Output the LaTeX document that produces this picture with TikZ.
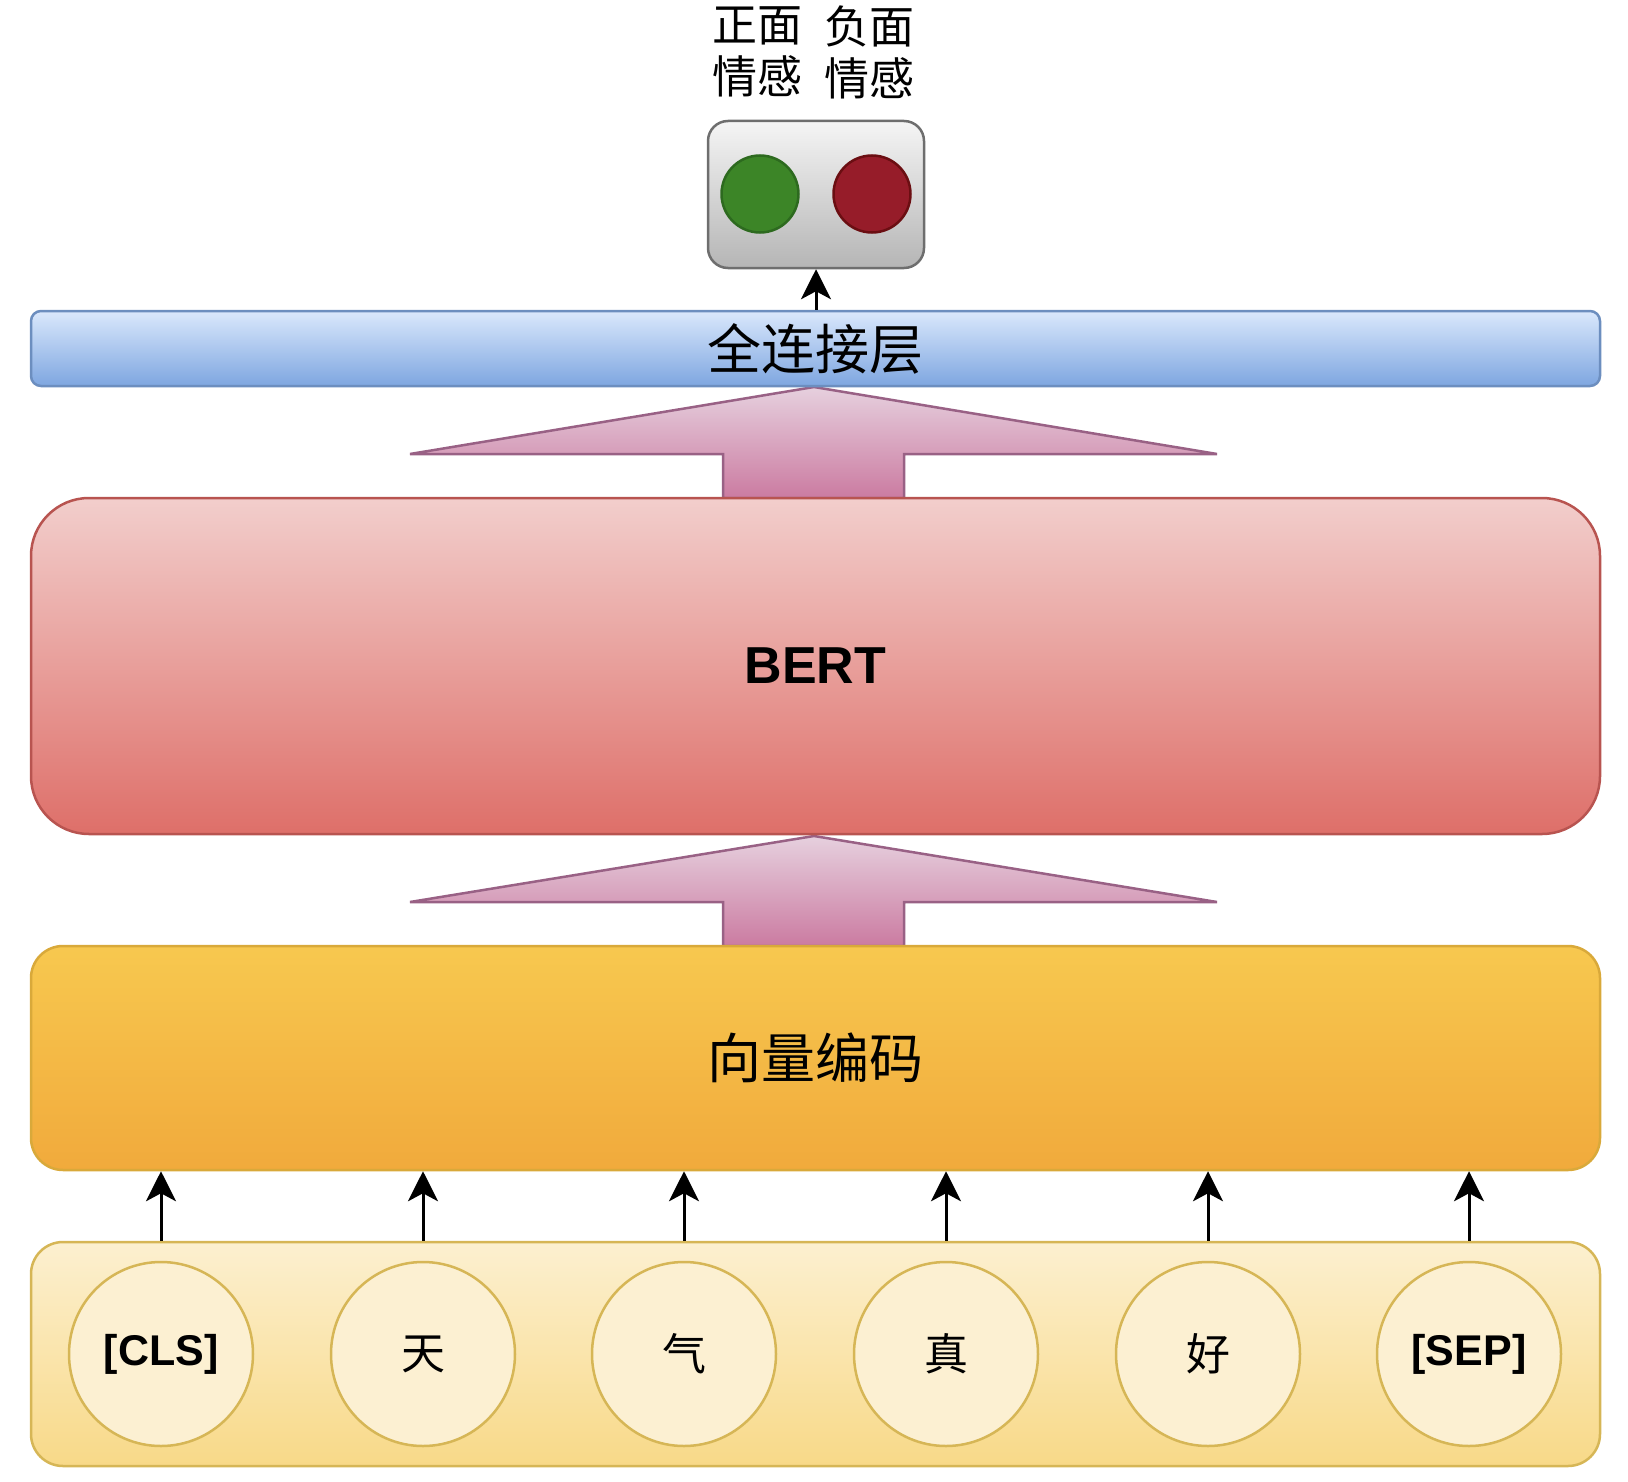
\documentclass[tikz,border=0pt]{standalone}
\usepackage{fontspec}
\setmainfont{Liberation Sans}
\newfontfamily\cjk{Noto Sans CJK SC}
\usetikzlibrary{arrows.meta,calc}
\definecolor{fcTop}{HTML}{DAE8FC}\definecolor{fcBot}{HTML}{7EA6E0}\definecolor{fcLine}{HTML}{6C8EBF}
\definecolor{arTop}{HTML}{E6D0DE}\definecolor{arBot}{HTML}{CB7BA1}\definecolor{arLine}{HTML}{996185}
\definecolor{beTop}{HTML}{F2CECC}\definecolor{beBot}{HTML}{DE6F69}\definecolor{beLine}{HTML}{B85450}
\definecolor{emTop}{HTML}{F7C84F}\definecolor{emBot}{HTML}{F1AA3C}\definecolor{emLine}{HTML}{D9A93A}
\definecolor{inTop}{HTML}{FCF0D0}\definecolor{inBot}{HTML}{F8D988}\definecolor{inLine}{HTML}{D6B656}
\definecolor{ciFill}{HTML}{FCF0D2}
\definecolor{grTop}{HTML}{F5F5F5}\definecolor{grBot}{HTML}{B5B5B5}\definecolor{grLine}{HTML}{6E6E6E}
\definecolor{gnFill}{HTML}{3C8527}\definecolor{gnLine}{HTML}{2D6A1F}
\definecolor{rdFill}{HTML}{961C29}\definecolor{rdLine}{HTML}{6B0E12}
\begin{document}
\begin{tikzpicture}[x=1pt,y=-1pt,
  layer/.style={rectangle, minimum width=1569pt, inner sep=0pt, line width=2.5pt},
  token/.style={circle, minimum size=184pt, inner sep=0pt, draw=inLine, fill=ciFill, line width=2.5pt},
  bigarrow/.style={draw=arLine, top color=arTop, bottom color=arBot, line width=2.5pt, line join=miter},
  smallarr/.style={line width=3pt, -{Stealth[length=30pt,width=30pt,inset=8pt]}},
  cjkL/.style={font=\cjk\fontsize{54}{60}\selectfont},
  cjkM/.style={font=\cjk\fontsize{44}{52}\selectfont},
  latB/.style={font=\bfseries\fontsize{43}{50}\selectfont}]
\useasboundingbox (0,0) rectangle (1628,1482);

% big arrows
\path[bigarrow] (814,387) -- (1217,454) -- (904,454) -- (904,498) -- (723,498) -- (723,454) -- (410,454) -- cycle;
\path[bigarrow] (814,836) -- (1217,902) -- (904,902) -- (904,946) -- (723,946) -- (723,902) -- (410,902) -- cycle;

% layers
\node[layer, minimum height=75pt, rounded corners=10pt, draw=fcLine, top color=fcTop, bottom color=fcBot, cjkL] (fc) at (815.5,348.5) {全连接层};
\node[layer, minimum height=336pt, rounded corners=58pt, draw=beLine, top color=beTop, bottom color=beBot, font=\bfseries\fontsize{52}{60}\selectfont] (bert) at (815.5,666) {BERT};
\node[layer, minimum height=224pt, rounded corners=32pt, draw=emLine, top color=emTop, bottom color=emBot, cjkL] (emb) at (815.5,1058) {向量编码};
\node[layer, minimum height=224pt, rounded corners=32pt, draw=inLine, top color=inTop, bottom color=inBot] (inp) at (815.5,1354) {};

% tokens
\node[token, latB] (t1) at (161,1354) {[CLS]};
\node[token, cjkM] (t2) at (423,1354) {天};
\node[token, cjkM] (t3) at (684,1354) {气};
\node[token, cjkM] (t4) at (946,1354) {真};
\node[token, cjkM] (t5) at (1208,1354) {好};
\node[token, latB] (t6) at (1469,1354) {[SEP]};

\foreach \i in {1,...,6}{
  \draw[smallarr] (t\i.north |- inp.north) -- (t\i.north |- emb.south);
}

% output box
\node[rectangle, minimum width=216pt, minimum height=147pt, rounded corners=20pt, draw=grLine, line width=2.5pt, top color=grTop, bottom color=grBot] (out) at (816,194.5) {};
\node[circle, minimum size=77pt, inner sep=0pt, draw=gnLine, fill=gnFill, line width=2.5pt] (pos) at (760,194) {};
\node[circle, minimum size=77pt, inner sep=0pt, draw=rdLine, fill=rdFill, line width=2.5pt] (neg) at (872,194) {};
\draw[smallarr] (fc.north -| out.south) -- (out.south);

% labels
\node[font=\cjk\fontsize{45}{52}\selectfont, align=center, inner sep=0pt] (lpos) at (757,52) {正面\\情感};
\node[font=\cjk\fontsize{45}{52}\selectfont, align=center, inner sep=0pt] (lneg) at (869,52) {负面\\情感};
\end{tikzpicture}
\end{document}
